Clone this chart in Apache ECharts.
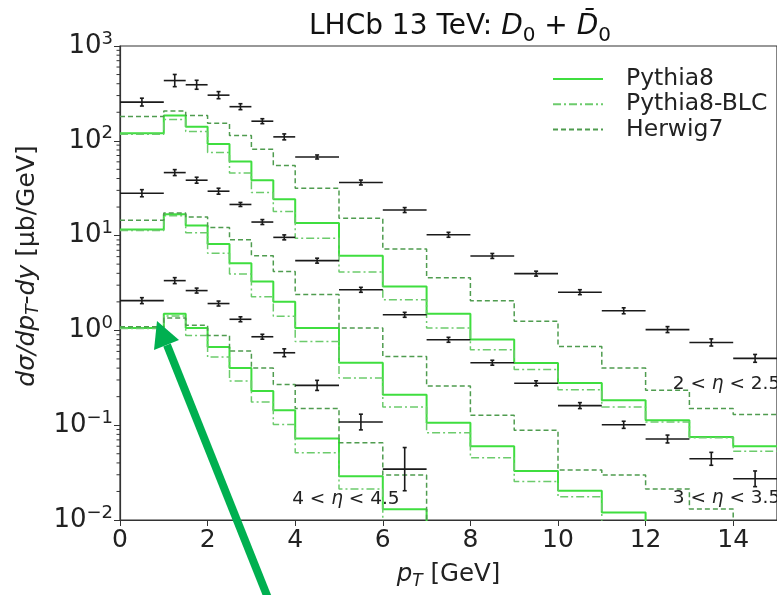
<!DOCTYPE html>
<html lang="en">
<head>
<meta charset="UTF-8">
<script src="https://cdn.jsdelivr.net/npm/echarts@6/dist/echarts.min.js"></script>
<style>html,body{margin:0;padding:0;background:#fff}</style>
</head>
<body>
<div id="chart" style="width:777px;height:595px"></div>
<script>
// pT bin edges [GeV]
var edges = [0, 1, 1.5, 2, 2.5, 3, 3.5, 4, 5, 6, 7, 8, 9, 10, 11, 12, 13, 14, 15];

// LHCb data, one array per eta bin (relative error in err_*)
var lhcb_eta2 = [256, 432, 390, 303, 229, 161, 110, 67.5, 36.3, 18.6, 10.2, 6.1, 3.97, 2.53, 1.61, 1.02, 0.746, 0.507];
var err_eta2  = [0.10, 0.16, 0.115, 0.09, 0.075, 0.062, 0.075, 0.05, 0.062, 0.062, 0.062, 0.062, 0.062, 0.062, 0.075, 0.075, 0.09, 0.10];
var lhcb_eta3 = [28.0, 46.2, 38.4, 29.4, 21.3, 13.9, 9.58, 5.44, 2.68, 1.46, 0.796, 0.456, 0.277, 0.161, 0.101, 0.0715, 0.0442, 0.0272];
var err_eta3  = [0.09, 0.075, 0.075, 0.075, 0.05, 0.062, 0.062, 0.062, 0.062, 0.062, 0.062, 0.062, 0.062, 0.075, 0.09, 0.10, 0.17, 0.21];
var lhcb_eta4 = [2.06, 3.35, 2.63, 1.92, 1.31, 0.857, 0.581, 0.263, 0.108, 0.0344];
var err_eta4  = [0.075, 0.075, 0.062, 0.062, 0.062, 0.062, 0.10, 0.13, 0.21, 0.69];

// generator histograms
var py8_eta2 = [120, 185, 141, 92.5, 60.4, 38.4, 24.2, 13.6, 6.14, 2.9, 1.5, 0.8, 0.453, 0.279, 0.183, 0.113, 0.075, 0.06];
var blc_eta2 = [117, 168, 125, 75.1, 45.8, 28.5, 18.0, 9.35, 4.13, 2.11, 1.06, 0.625, 0.388, 0.237, 0.156, 0.108, 0.0736, 0.053];
var hw7_eta2 = [180, 206, 185, 153, 114, 81.3, 54.8, 31.6, 15.2, 7.21, 3.6, 2.06, 1.25, 0.677, 0.401, 0.233, 0.15, 0.13];

var py8_eta3 = [11.6, 16.8, 12.8, 8.15, 5.1, 3.27, 2.01, 1.06, 0.456, 0.21, 0.106, 0.0601, 0.0328, 0.0204, 0.012, 0.007, 0.004, 0.003];
var blc_eta3 = [11.3, 16.2, 10.7, 6.5, 3.94, 2.27, 1.41, 0.764, 0.315, 0.156, 0.0831, 0.0453, 0.0254, 0.0176, 0.008, 0.005, 0.003, 0.002];
var hw7_eta3 = [14.5, 17.3, 15.7, 12.2, 9.04, 6.14, 4.17, 2.39, 1.06, 0.532, 0.259, 0.127, 0.0885, 0.0336, 0.0298, 0.0212, 0.0131, 0.007];

var py8_eta4 = [1.06, 1.5, 1.06, 0.667, 0.401, 0.23, 0.144, 0.0724, 0.029, 0.013, 0.006, 0.004, 0.003, 0.002, 0.0015, 0.001, 0.001, 0.001];
var blc_eta4 = [1.05, 1.42, 0.884, 0.524, 0.293, 0.176, 0.102, 0.0512, 0.0212, 0.008, 0.005, 0.003, 0.002, 0.0015, 0.001, 0.001, 0.001, 0.001];
var hw7_eta4 = [1.09, 1.35, 1.13, 0.884, 0.605, 0.401, 0.268, 0.15, 0.0652, 0.0298, 0.008, 0.005, 0.003, 0.002, 0.0015, 0.001, 0.001, 0.001];

// eta-bin annotations (data coordinates)
var etaLabels = ['2 < {i|η} < 2.5', '3 < {i|η} < 3.5', '4 < {i|η} < 4.5'];
var etaLabelX = [12.62, 12.62, 3.93];
var etaLabelY = [0.272, 0.0169, 0.0165];

var FONT = 'DejaVu Sans';
var cPy8 = '#3fde3f', cBlc = '#6ccb6c', cHw7 = '#4f9c4f';

function stepData(vals) {
    var d = [];
    for (var i = 0; i < vals.length; i++) d.push([edges[i], vals[i]]);
    d.push([edges[vals.length], vals[vals.length - 1]]);
    return d;
}

function pointData(vals, errs) {
    var d = [];
    for (var i = 0; i < vals.length; i++) d.push([edges[i], edges[i + 1], vals[i], errs[i]]);
    return d;
}

function hist(name, vals, color, type, width) {
    return {
        name: name, type: 'line', step: 'end', symbol: 'none', clip: true,
        data: stepData(vals),
        lineStyle: { color: color, width: width, type: type },
        itemStyle: { color: color },
        silent: true, z: 2
    };
}

function renderPoint(params, api) {
    var x0 = api.value(0), x1 = api.value(1), v = api.value(2), e = api.value(3);
    var a = api.coord([x0, v]), b = api.coord([x1, v]);
    var xc = (a[0] + b[0]) / 2;
    var hi = api.coord([x0, v * (1 + e)])[1];
    var lo = api.coord([x0, v / (1 + e)])[1];
    var st = { stroke: '#1a1a1a', lineWidth: 1.6 };
    return {
        type: 'group', children: [
            { type: 'line', shape: { x1: a[0], y1: a[1], x2: b[0], y2: b[1] }, style: st },
            { type: 'line', shape: { x1: xc, y1: hi, x2: xc, y2: lo }, style: st },
            { type: 'line', shape: { x1: xc - 2, y1: hi, x2: xc + 2, y2: hi }, style: st },
            { type: 'line', shape: { x1: xc - 2, y1: lo, x2: xc + 2, y2: lo }, style: st }
        ]
    };
}

function points(vals, errs) {
    return {
        type: 'custom', renderItem: renderPoint, data: pointData(vals, errs),
        encode: { x: [0, 1], y: 2 }, z: 3, silent: true
    };
}

// minor ticks of the log axis: 2..9 x 10^k
var minorVals = [];
for (var k = -2; k < 3; k++) for (var m = 2; m < 10; m++) minorVals.push([0, m * Math.pow(10, k)]);

var dashDot = [8, 3, 2, 3];
var dashed = [5, 3];

var series = [
    hist('Pythia8', py8_eta2, cPy8, 'solid', 2),
    hist('Pythia8-BLC', blc_eta2, cBlc, dashDot, 1.5),
    hist('Herwig7', hw7_eta2, cHw7, dashed, 1.5),
    hist('Pythia8', py8_eta3, cPy8, 'solid', 2),
    hist('Pythia8-BLC', blc_eta3, cBlc, dashDot, 1.5),
    hist('Herwig7', hw7_eta3, cHw7, dashed, 1.5),
    hist('Pythia8', py8_eta4, cPy8, 'solid', 2),
    hist('Pythia8-BLC', blc_eta4, cBlc, dashDot, 1.5),
    hist('Herwig7', hw7_eta4, cHw7, dashed, 1.5),
    points(lhcb_eta2, err_eta2),
    points(lhcb_eta3, err_eta3),
    points(lhcb_eta4, err_eta4),
    {
        type: 'custom', silent: true, z: 4, data: minorVals, encode: { x: 0, y: 1 },
        renderItem: function (params, api) {
            var p = api.coord([0, api.value(1)]);
            return { type: 'line', shape: { x1: p[0] - 3.5, y1: p[1], x2: p[0], y2: p[1] },
                     style: { stroke: '#333', lineWidth: 1 } };
        }
    },
    {
        type: 'custom', silent: true, z: 5,
        data: etaLabels.map(function (t, i) { return [etaLabelX[i], etaLabelY[i], i]; }),
        encode: { x: 0, y: 1 },
        renderItem: function (params, api) {
            var p = api.coord([api.value(0), api.value(1)]);
            return {
                type: 'text', x: p[0], y: p[1],
                style: {
                    text: etaLabels[api.value(2)], fill: '#222', fontSize: 18.5, fontFamily: FONT,
                    align: 'left', verticalAlign: 'middle',
                    rich: { i: { fontStyle: 'italic', fontSize: 18.5, fontFamily: FONT, fill: '#222' } }
                }
            };
        }
    }
];

var chart = echarts.init(document.getElementById('chart'));
chart.setOption({
    animation: false,
    backgroundColor: '#fff',
    title: {
        text: 'LHCb 13 TeV: {i|D}{s|0} + {i|D\u0304}{s|0}',
        left: 455, top: 3, textAlign: 'center',
        textStyle: {
            fontFamily: FONT, fontSize: 28, fontWeight: 'normal', color: '#111', lineHeight: 38,
            rich: {
                i: { fontFamily: FONT, fontSize: 28, fontStyle: 'italic', lineHeight: 38, color: '#111' },
                s: { fontFamily: FONT, fontSize: 20, lineHeight: 20, verticalAlign: 'bottom', color: '#111' }
            }
        }
    },
    legend: {
        data: ['Pythia8', 'Pythia8-BLC', 'Herwig7'],
        orient: 'vertical', left: 552, top: 67, padding: 0,
        itemWidth: 50, itemHeight: 14, itemGap: 1.3,
        itemStyle: { opacity: 0 },
        textStyle: { fontFamily: FONT, fontSize: 23.5, color: '#222', lineHeight: 24, padding: [0, 0, 0, 18] }
    },
    grid: { left: 120, top: 46, right: -13.5, bottom: 73, show: true, borderColor: '#333', borderWidth: 1.2 },
    xAxis: {
        type: 'value', min: 0, max: 15, interval: 2,
        name: '{i|p}{s|T} [GeV]', nameLocation: 'middle', nameGap: 40,
        nameTextStyle: {
            fontFamily: FONT, fontSize: 24.5, color: '#222', lineHeight: 30,
            rich: {
                i: { fontFamily: FONT, fontSize: 24.5, fontStyle: 'italic', lineHeight: 30, color: '#222' },
                s: { fontFamily: FONT, fontSize: 17, fontStyle: 'italic', lineHeight: 17, verticalAlign: 'bottom', color: '#222' }
            }
        },
        axisLine: { show: true, onZero: false, lineStyle: { color: '#333', width: 1.2 } },
        axisTick: { show: true, inside: false, length: 6, lineStyle: { color: '#333' } },
        axisLabel: { fontFamily: FONT, fontSize: 25, color: '#222', margin: 8, showMaxLabel: false },
        splitLine: { show: false }
    },
    yAxis: {
        type: 'log', logBase: 10, min: 0.01, max: 1000,
        name: '{i|d\u03c3/dp}{s|T}{i|-dy} [\u03bcb/GeV]', nameLocation: 'middle', nameGap: 76, nameRotate: 90,
        nameTextStyle: {
            fontFamily: FONT, fontSize: 25, color: '#222', lineHeight: 30, padding: [0, 0, 0, 34],
            rich: {
                i: { fontFamily: FONT, fontSize: 25, fontStyle: 'italic', lineHeight: 30, color: '#222' },
                s: { fontFamily: FONT, fontSize: 17, fontStyle: 'italic', lineHeight: 17, verticalAlign: 'bottom', color: '#222' }
            }
        },
        axisLine: { show: true, lineStyle: { color: '#333', width: 1.2 } },
        axisTick: { show: true, inside: false, length: 6, lineStyle: { color: '#333' } },
        axisLabel: {
            fontFamily: FONT, fontSize: 26, color: '#222', margin: 7, lineHeight: 32,
            formatter: function (v) {
                var e = Math.round(Math.log10(v));
                return '10{s|' + (e < 0 ? '\u2212' + (-e) : e) + '}';
            },
            rich: { s: { fontFamily: FONT, fontSize: 18, lineHeight: 15, verticalAlign: 'top', color: '#222' } }
        },
        splitLine: { show: false }
    },
    graphic: [
        { type: 'line', z: 100, shape: { x1: 268, y1: 598, x2: 167, y2: 345 },
          style: { stroke: '#00b050', lineWidth: 8 } },
        { type: 'polygon', z: 100, shape: { points: [[157, 321], [179, 340], [154, 350]] },
          style: { fill: '#00b050' } }
    ],
    series: series
});
</script>
</body>
</html>
